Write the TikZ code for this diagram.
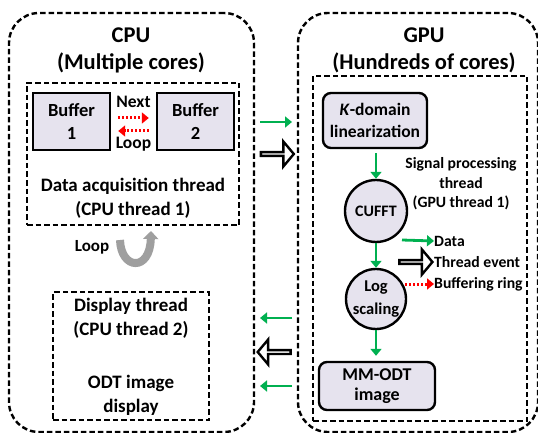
\documentclass[tikz,border=0pt]{standalone}
\usepackage{fontspec}
\setmainfont{Carlito}
\usetikzlibrary{arrows.meta,shapes.arrows,calc}
\definecolor{boxfill}{HTML}{E6E3EE}
\definecolor{dgreen}{HTML}{00B050}
\begin{document}
\begin{tikzpicture}[x=1pt,y=-1pt,
  font=\bfseries\fontsize{19}{24}\selectfont,
  outer/.style={draw, line width=2.4pt, dash pattern=on 5.5pt off 3pt, rounded corners=30pt, inner sep=0pt},
  thread/.style={draw, line width=2.4pt, dash pattern=on 5.5pt off 3pt, inner sep=0pt},
  buf/.style={draw, line width=2.4pt, fill=boxfill, align=center, inner sep=0pt, font=\bfseries\fontsize{18.5}{23}\selectfont},
  gpubox/.style={draw, line width=2.4pt, fill=boxfill, align=center, inner sep=0pt, rounded corners=8pt},
  circ/.style={circle, draw, line width=2.4pt, fill=boxfill, align=center, inner sep=0pt},
  lbl/.style={align=center, inner sep=0pt},
  title/.style={align=center, inner sep=0pt, font=\bfseries\fontsize{22.5}{27}\selectfont},
  small/.style={align=center, inner sep=0pt, font=\bfseries\fontsize{15.7}{19.5}\selectfont},
  garrow/.style={-{Triangle[length=7pt,width=11pt]}, dgreen, line width=2.8pt},
  rarrow/.style={-{Triangle[length=7pt,width=11pt]}, red, line width=3pt, dash pattern=on 2.2pt off 1.8pt},
  hollow/.style={single arrow, draw, line width=2.4pt, fill=white, minimum height=33pt, minimum width=25pt, single arrow head extend=6.5pt, single arrow tip angle=100, inner sep=0pt}
]
\useasboundingbox (0,0) rectangle (538,433);

% outer containers
\node[outer, minimum width=245pt, minimum height=419pt] (cpu) at (131.5,222.5) {};
\node[outer, minimum width=240pt, minimum height=419pt] (gpu) at (418,222.5) {};
\node[title] (cputitle) at (131,50) {CPU\\(Multiple cores)};
\node[title] (gputitle) at (424,50) {GPU\\(Hundreds of cores)};

% data acquisition thread
\node[thread, minimum width=212pt, minimum height=142pt] (acq) at (133,154) {};
\node[buf, minimum width=77pt, minimum height=57pt] (b1) at (71.5,121.5) {Buffer\\1};
\node[buf, minimum width=77pt, minimum height=57pt] (b2) at (195.5,121.5) {Buffer\\2};
\node[lbl, font=\bfseries\fontsize{17.5}{20}\selectfont] (next) at (133.5,102) {Next};
\node[lbl, font=\bfseries\fontsize{17.5}{20}\selectfont] (loop1) at (133.5,144) {Loop};
\draw[rarrow] ($(b1.east)+(7,-3.5)$) -- ($(b2.west)+(-7,-3.5)$);
\draw[rarrow] ($(b2.west)+(-7,9.5)$) -- ($(b1.east)+(7,9.5)$);
\node[lbl] (acqtxt) at (133,198) {Data acquisition thread\\(CPU thread 1)};

% loop arrow
\node[lbl, font=\bfseries\fontsize{17}{20}\selectfont] (loop2) at (92,247) {Loop};
\coordinate (la) at (120,240);
\coordinate (lb) at (151,231);
\draw[gray!75, line width=8pt, -{Triangle[length=8pt,width=15pt]}] (la) .. controls (121,270) and (150,272) .. (lb);

% display thread
\node[thread, minimum width=156pt, minimum height=128pt] (disp) at (131,356) {};
\node[lbl] (disptxt) at (131,318) {Display thread\\(CPU thread 2)};
\node[lbl] (odttxt) at (131,395) {ODT image\\display};

% GPU side
\node[thread, minimum width=214pt, minimum height=345pt] (sig) at (420,248.5) {};
\node[gpubox, minimum width=104pt, minimum height=55pt, font=\bfseries\fontsize{17.5}{22}\selectfont] (kdom) at (375,120.5) {\textit{K}-domain\\linearization};
\node[circ, minimum size=62pt, font=\bfseries\fontsize{16}{19}\selectfont] (cufft) at (376,211) {CUFFT};
\node[circ, minimum size=60pt, font=\bfseries\fontsize{16.5}{23}\selectfont] (log) at (376,299) {Log\\scaling};
\node[gpubox, minimum width=116pt, minimum height=48pt, font=\bfseries\fontsize{18}{20.5}\selectfont] (mm) at (377,386) {MM-ODT\\image};
\node[small] (sigtxt) at (461,184) {Signal processing\\thread\\(GPU thread 1)};

\draw[garrow] ($(kdom.south)+(1,4)$) -- (cufft.north);
\draw[garrow] (cufft.south) -- (log.north);
\draw[garrow] (log.south) -- ($(mm.north)+(-1,-5)$);

% legend
\node[small, anchor=west] (ldata) at (434,241) {Data};
\node[small, anchor=west] (lthread) at (434,262) {Thread event};
\node[small, anchor=west] (lbuf) at (434,284) {Buffering ring};
\coordinate (ld0) at (402,240);
\draw[garrow] (ld0) -- (ldata.west);
\node[hollow, anchor=tip] (lth) at (lthread.west) {};
\coordinate (lb0) at (405,284);
\draw[rarrow] (lb0) -- (lbuf.west);

% between CPU and GPU
\coordinate (g1a) at (260,122);
\coordinate (g1b) at (292,122);
\draw[garrow] (g1a) -- (g1b);
\node[hollow] (h1) at (276.5,154) {};
\coordinate (g2a) at (292,318);
\coordinate (g2b) at (260,318);
\draw[garrow] (g2a) -- (g2b);
\node[hollow, shape border rotate=180] (h2) at (275,352) {};
\coordinate (g3a) at (292,386);
\coordinate (g3b) at (260,386);
\draw[garrow] (g3a) -- (g3b);
\end{tikzpicture}
\end{document}
